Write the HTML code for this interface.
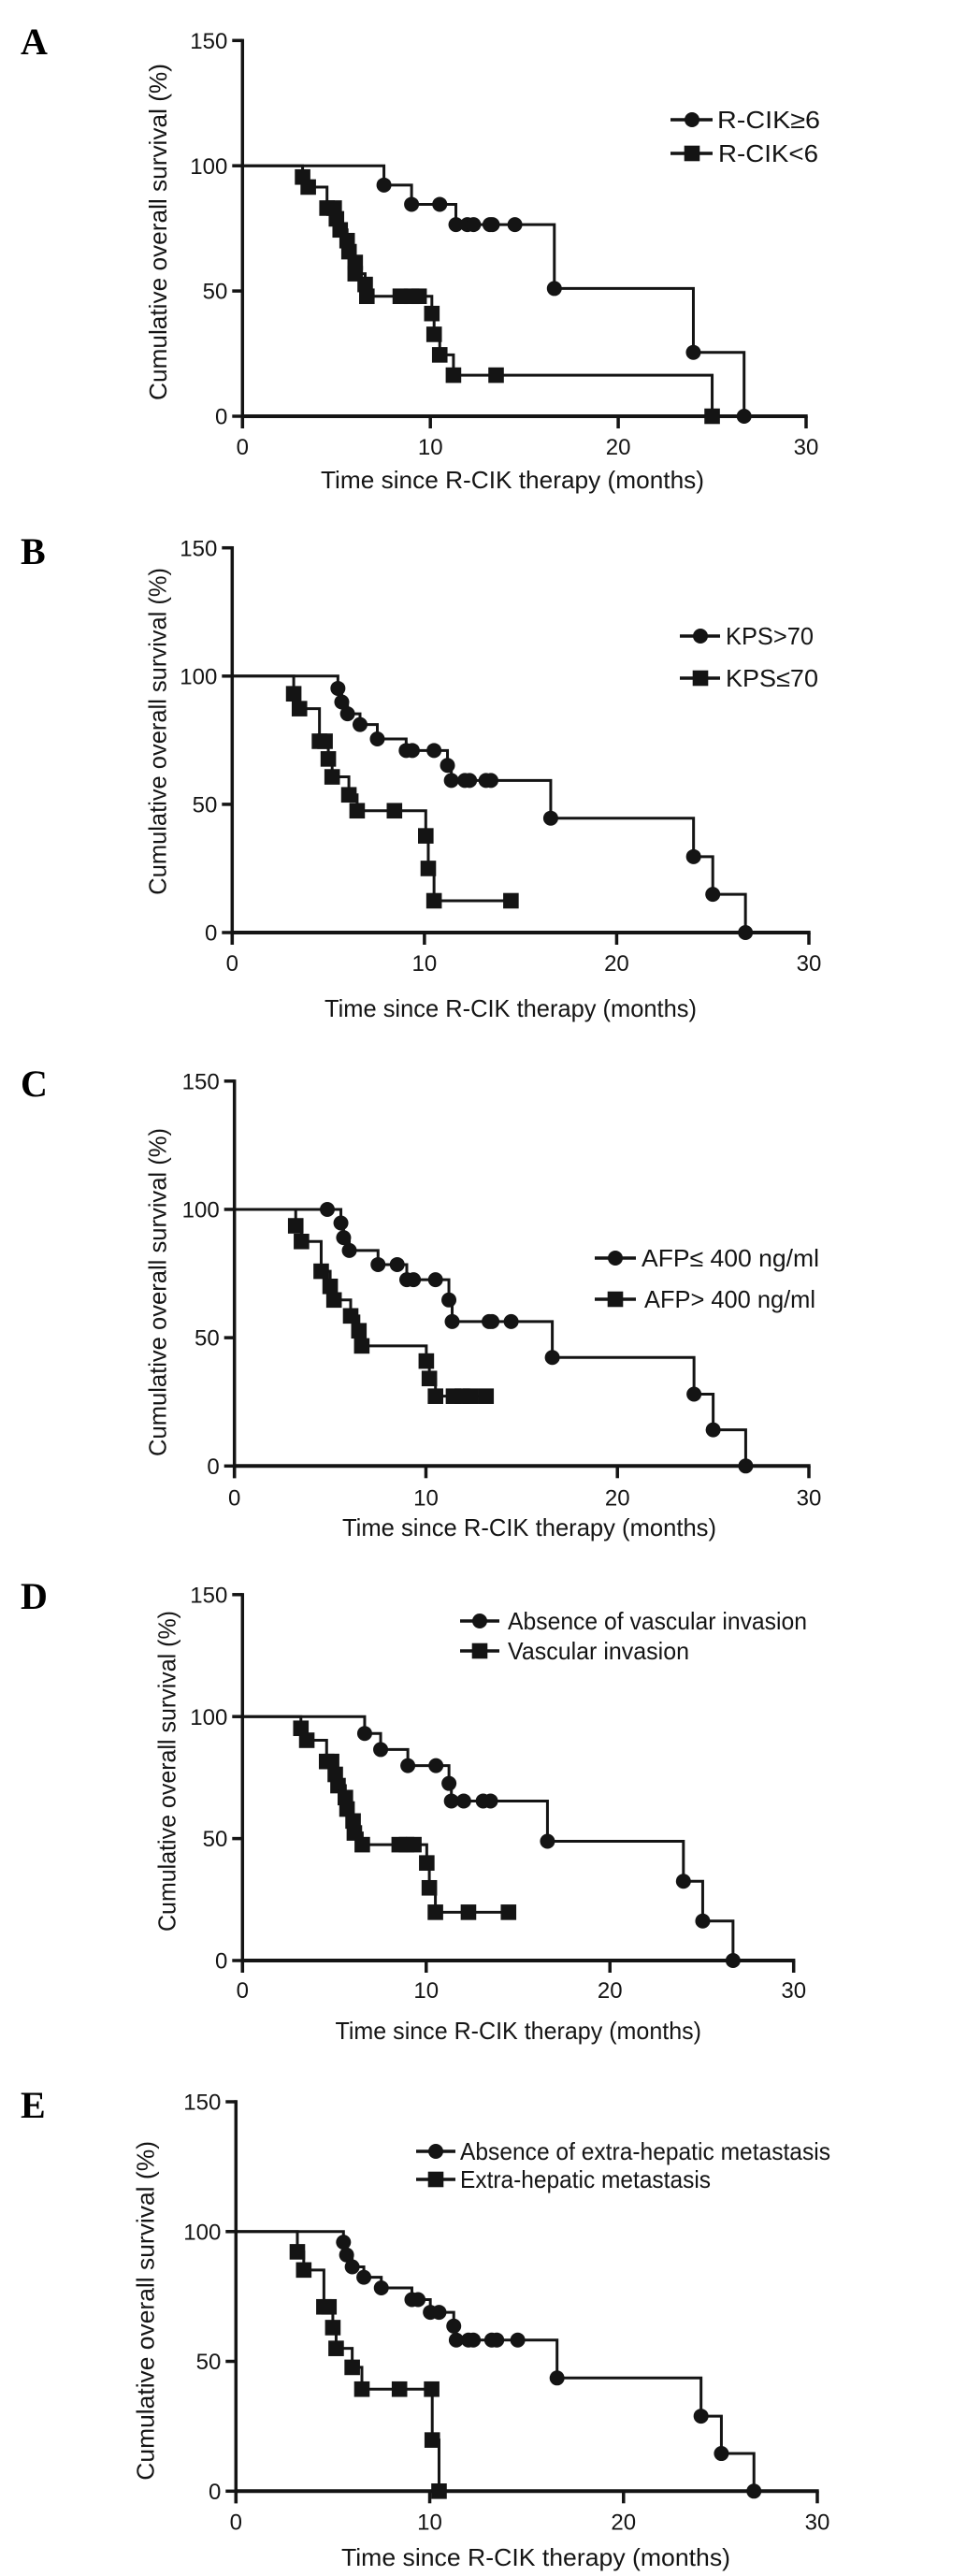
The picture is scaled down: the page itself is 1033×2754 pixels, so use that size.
<!DOCTYPE html>
<html lang="en">
<head>
<meta charset="utf-8">
<title>Cumulative overall survival by subgroup</title>
<style>
html,body{margin:0;padding:0;background:#fff;}
svg{display:block;}
text{font-family:"Liberation Sans",Arial,sans-serif;fill:#141414;}
.panel-letter{font-family:"Liberation Serif","Times New Roman",serif;font-weight:bold;font-size:40px;fill:#000;}
</style>
</head>
<body>
<svg id="figure" xmlns="http://www.w3.org/2000/svg" width="1033" height="2754" viewBox="0 0 1033 2754"></svg>
<script>
const xTickValues = [0, 10, 20, 30];
const yTickValues = [0, 50, 100, 150];

const aCircleTimes = [7.53, 9, 10.5, 11.36, 11.97, 12.3, 13.17, 13.3, 14.5, 16.6, 24, 26.7];
const aCircleSurvival = [92.3, 84.6, 84.6, 76.5, 76.5, 76.5, 76.5, 76.5, 76.5, 51, 25.5, 0];
const aSquareTimes = [3.2, 3.5, 4.5, 4.88, 5, 5.2, 5.57, 5.67, 6, 6, 6.53, 6.62, 8.4, 9, 9.4, 10.08, 10.2, 10.5, 11.23, 13.5, 25];
const aSquareSurvival = [95.5, 91.5, 83.1, 83.1, 78.8, 74.4, 70.1, 65.7, 61.4, 56.9, 52.6, 47.9, 47.9, 47.9, 47.9, 41, 32.7, 24.5, 16.4, 16.4, 0];

const bCircleTimes = [5.5, 5.7, 6, 6.65, 7.55, 9.05, 9.37, 10.5, 11.2, 11.4, 12.1, 12.35, 13.2, 13.46, 16.57, 24, 25, 26.7];
const bCircleSurvival = [95.2, 89.9, 85.3, 81.1, 75.5, 71, 71, 71, 65.2, 59.3, 59.3, 59.3, 59.3, 59.3, 44.6, 29.6, 14.9, 0];
const bSquareTimes = [3.2, 3.5, 4.54, 4.83, 5, 5.2, 6.07, 6.5, 8.44, 10.07, 10.2, 10.5, 14.5];
const bSquareSurvival = [93.1, 87.3, 74.6, 74.6, 67.7, 60.7, 53.7, 47.5, 47.5, 37.7, 25, 12.4, 12.4];

const cCircleTimes = [4.85, 5.56, 5.7, 6, 7.5, 8.5, 9, 9.35, 10.5, 11.2, 11.37, 13.3, 13.45, 14.45, 16.6, 24, 25, 26.7];
const cCircleSurvival = [100, 94.7, 89, 84, 78.5, 78.5, 72.6, 72.6, 72.6, 64.7, 56.3, 56.3, 56.3, 56.3, 42.3, 28, 14.1, 0];
const cSquareTimes = [3.2, 3.5, 4.53, 5, 5.2, 6.07, 6.5, 6.65, 10.02, 10.18, 10.5, 11.44, 11.9, 12.33, 13.14];
const cSquareSurvival = [93.6, 87.5, 75.9, 70, 64.7, 58.5, 52.7, 46.8, 40.9, 34.1, 27.2, 27.2, 27.2, 27.2, 27.2];

const dCircleTimes = [6.65, 7.52, 9, 10.53, 11.24, 11.37, 12.04, 13.1, 13.5, 16.6, 24, 25.05, 26.7];
const dCircleSurvival = [93.1, 86.5, 79.9, 79.9, 72.6, 65.4, 65.4, 65.4, 65.4, 48.9, 32.5, 16.2, 0];
const dSquareTimes = [3.18, 3.5, 4.58, 4.85, 5.05, 5.2, 5.6, 5.69, 6.02, 6.09, 6.52, 8.53, 8.93, 9.33, 10.03, 10.17, 10.5, 12.3, 14.48];
const dSquareSurvival = [95.2, 90.3, 81.6, 81.6, 76.3, 71.7, 66.8, 62.1, 57.2, 52.3, 47.5, 47.5, 47.5, 47.5, 40, 29.8, 19.8, 19.8, 19.8];

const eCircleTimes = [5.55, 5.71, 6, 6.6, 7.5, 9.08, 9.4, 10.03, 10.48, 11.24, 11.37, 12, 12.25, 13.2, 13.46, 14.54, 16.57, 24, 25.05, 26.73];
const eCircleSurvival = [95.9, 91, 86.4, 82.4, 78.3, 73.8, 73.8, 68.9, 68.9, 63.6, 58.2, 58.2, 58.2, 58.2, 58.2, 58.2, 43.6, 28.9, 14.5, 0];
const eSquareTimes = [3.17, 3.5, 4.54, 4.8, 5, 5.17, 6, 6.5, 8.44, 10.1, 10.13, 10.48];
const eSquareSurvival = [92.2, 85.2, 71, 71, 63, 55, 47.7, 39.3, 39.3, 39.3, 19.7, 0];

const panels = [
  {id:'a', letter:'A', ly:58, x0:259.3, x30:862, y150:43.3, y0:445, tickBase:41,
   xt:[343,753,522], yt:[178,68,428],
   circleT:aCircleTimes, circleS:aCircleSurvival, squareT:aSquareTimes, squareS:aSquareSurvival,
   leg:[717,762,740,128,164],
   l1:['R-CIK≥6',767,877,137], l2:['R-CIK<6',768,875,173]},
  {id:'b', letter:'B', ly:603, x0:248.3, x30:865, y150:585.7, y0:997, tickBase:41,
   xt:[347,745,1087], yt:[177.3,607,956.7],
   circleT:bCircleTimes, circleS:bCircleSurvival, squareT:bSquareTimes, squareS:bSquareSurvival,
   leg:[727,770,749,680,725],
   l1:['KPS>70',776,870,689], l2:['KPS≤70',776,875,734]},
  {id:'c', letter:'C', ly:1172, x0:250.7, x30:865, y150:1155.8, y0:1567.3, tickBase:42,
   xt:[366,766,1642], yt:[177.5,1206,1557],
   circleT:cCircleTimes, circleS:cCircleSurvival, squareT:cSquareTimes, squareS:cSquareSurvival,
   leg:[636,680,658,1345,1389],
   l1:['AFP≤ 400 ng/ml',686,876,1354], l2:['AFP> 400 ng/ml',689,872,1398]},
  {id:'d', letter:'D', ly:1720, x0:259.3, x30:848.7, y150:1704.8, y0:2096, tickBase:40,
   xt:[358.5,750,2180], yt:[187.3,1722,2065],
   circleT:dCircleTimes, circleS:dCircleSurvival, squareT:dSquareTimes, squareS:dSquareSurvival,
   leg:[492,534,513,1733,1765],
   l1:['Absence of vascular invasion',543,863,1742], l2:['Vascular invasion',543,737,1774]},
  {id:'e', letter:'E', ly:2264, x0:252.3, x30:874, y150:2247, y0:2663.3, tickBase:41,
   xt:[365,781,2743], yt:[164.3,2289,2651.7],
   circleT:eCircleTimes, circleS:eCircleSurvival, squareT:eSquareTimes, squareS:eSquareSurvival,
   leg:[445,487,466,2300,2330],
   l1:['Absence of extra-hepatic metastasis',492,888,2309], l2:['Extra-hepatic metastasis',492,760,2339]}
];

const INK = '#141414';
const NS = 'http://www.w3.org/2000/svg';
const figure = document.getElementById('figure');

function make(tag, parent, attrs, text) {
  const node = document.createElementNS(NS, tag);
  for (const key in attrs) node.setAttribute(key, attrs[key]);
  if (text !== undefined) node.textContent = text;
  parent.appendChild(node);
  return node;
}

function drawMarker(parent, kind, cx, cy) {
  if (kind === 'circle') {
    return make('circle', parent, {cx: cx, cy: cy, r: 8, fill: INK});
  }
  return make('rect', parent, {x: cx - 8.3, y: cy - 8.3, width: 16.6, height: 16.6, fill: INK});
}

function drawSeries(parent, p, kind, times, survival, sx, sy) {
  const group = make('g', parent, {});
  
  
  let d = 'M' + sx(0) + ' ' + sy(100);
  times.forEach(function (t, i) {
    d += 'H' + sx(t) + 'V' + sy(survival[i]);
  });
  const line = make('path', group, {d: d, fill: 'none', stroke: INK, 'stroke-width': 3});
  
  
  times.forEach(function (t, i) {
    const mark = drawMarker(group, kind, sx(t), sy(survival[i]));
    
    
  });
}

function drawLegendEntry(parent, p, kind, label, cy) {
  const entry = make('g', parent, {});
  
  
  make('line', entry, {x1: p.leg[0], x2: p.leg[1], y1: cy, y2: cy, stroke: INK, 'stroke-width': 3.4});
  drawMarker(entry, kind, p.leg[2], cy);
  make('text', entry, {x: label[1], y: label[3], 'font-size': 26, textLength: label[2] - label[1], lengthAdjust: 'spacingAndGlyphs'}, label[0]);
}

panels.forEach(function (p) {
  const sx = function (t) { return +(p.x0 + (p.x30 - p.x0) * t / 30).toFixed(2); };
  const sy = function (s) { return +(p.y0 + (p.y150 - p.y0) * s / 150).toFixed(2); };

  const panel = make('g', figure, {});
  
  

  const letter = make('text', panel, {x: 22, y: p.ly, class: 'panel-letter'}, p.letter);
  
  

  const yAxis = make('g', panel, {stroke: INK, 'stroke-width': 3.5});
  
  
  make('line', yAxis, {x1: p.x0, x2: p.x0, y1: p.y150 - 1.7, y2: p.y0 + 13});
  yTickValues.forEach(function (v) {
    make('line', yAxis, {x1: p.x0 - 11, x2: p.x0, y1: sy(v), y2: sy(v)});
    const lab = make('text', panel, {x: p.x0 - 16, y: sy(v) + 8.6, 'font-size': 24, 'text-anchor': 'end'}, String(v));
    
    
  });

  const xAxis = make('g', panel, {stroke: INK, 'stroke-width': 4});
  
  
  make('line', xAxis, {x1: p.x0, x2: p.x30 + 1.7, y1: p.y0, y2: p.y0});
  xTickValues.forEach(function (v) {
    make('line', xAxis, {x1: sx(v), x2: sx(v), y1: p.y0, y2: p.y0 + 13, 'stroke-width': 3.5});
    const lab = make('text', panel, {x: sx(v), y: p.y0 + p.tickBase, 'font-size': 24, 'text-anchor': 'middle'}, String(v));
    
    
  });

  const xTitle = make('text', panel, {x: p.xt[0], y: p.xt[2], 'font-size': 26, textLength: p.xt[1] - p.xt[0], lengthAdjust: 'spacingAndGlyphs'}, 'Time since R-CIK therapy (months)');
  
  

  const yTitle = make('text', panel, {x: 0, y: 0, 'font-size': 26, textLength: p.yt[2] - p.yt[1], lengthAdjust: 'spacingAndGlyphs', transform: 'translate(' + p.yt[0] + ' ' + p.yt[2] + ') rotate(-90)'}, 'Cumulative overall survival (%)');
  
  

  drawSeries(panel, p, 'circle', p.circleT, p.circleS, sx, sy);
  drawSeries(panel, p, 'square', p.squareT, p.squareS, sx, sy);

  const legend = make('g', panel, {});
  
  
  drawLegendEntry(legend, p, 'circle', p.l1, p.leg[3]);
  drawLegendEntry(legend, p, 'square', p.l2, p.leg[4]);
});
</script>
</body>
</html>
